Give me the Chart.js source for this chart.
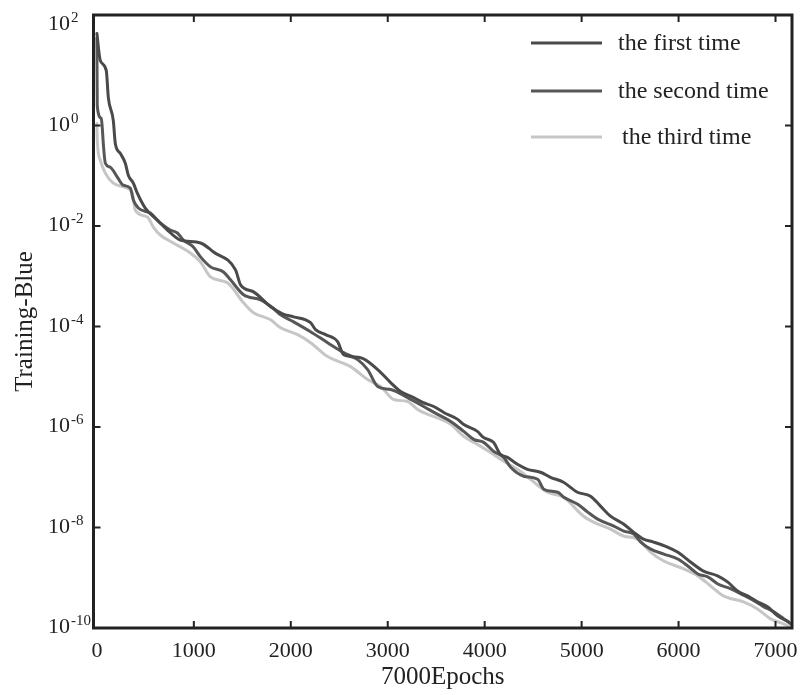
<!DOCTYPE html>
<html>
<head>
<meta charset="utf-8">
<script src="https://cdn.jsdelivr.net/npm/chart.js@4.4.1/dist/chart.umd.min.js"></script>
<style>
html,body{margin:0;padding:0;background:#ffffff;}
canvas{display:block;}
</style>
</head>
<body>
<canvas id="c" width="807" height="695"></canvas>
<script>
// ---------------- data ----------------
const seriesNames = ['the first time', 'the second time', 'the third time'];

const xTickValues = [0, 1000, 2000, 3000, 4000, 5000, 6000, 7000];
const yTickPowers = [2, 0, -2, -4, -6, -8, -10];

const firstEpochs = [0,35,97,118,169,190,241,293,324,376,417,499,623,727,861,1069,1203,1430,1482,1616,1792,1915,2029,2204,2256,2359,2483,2545,2720,2896,3030,3133,3268,3361,3474,3578,3722,3781,3925,3987,4090,4163,4235,4338,4441,4576,4679,4813,4957,5092,5195,5298,5432,5535,5638,5742,5886,5989,6123,6257,6402,6505,6608,6711,6814,6918,7021,7134];
const firstLoss = [68,19.7,12.4,3.6,1.27,0.44,0.28,0.178,0.103,0.0713,0.0452,0.0228,0.0131,0.00833,0.00527,0.0046,0.00305,0.00134,6.75e-4,4.9e-4,2.47e-4,1.79e-4,1.56e-4,1.19e-4,8.64e-5,6.88e-5,4.99e-5,2.75e-5,2.4e-5,1.39e-5,7.67e-6,5.08e-6,3.86e-6,3.08e-6,2.56e-6,1.95e-6,1.42e-6,1.13e-6,8.18e-7,6.22e-7,4.95e-7,2.86e-7,2.49e-7,1.81e-7,1.44e-7,1.26e-7,1.0e-7,7.96e-8,5.04e-8,4.2e-8,2.66e-8,1.68e-8,1.17e-8,8.1e-9,5.89e-9,5.13e-9,4.08e-9,3.25e-9,2.06e-9,1.36e-9,1.09e-9,8.26e-10,5.47e-10,4.35e-10,3.31e-10,2.64e-10,1.75e-10,1.33e-10];

const secondEpochs = [0,4,45,56,66,87,138,211,272,345,376,427,551,654,757,830,892,995,1069,1172,1306,1378,1513,1689,1813,1895,2029,2204,2380,2545,2690,2793,2896,3030,3205,3371,3515,3650,3784,3887,3990,4093,4196,4268,4403,4547,4609,4754,4816,4960,5063,5166,5332,5435,5538,5610,5713,5848,5992,6095,6199,6302,6405,6539,6642,6745,6880,6983,7086,7158];
const secondLoss = [55,2.4,1.39,0.88,0.44,0.178,0.148,0.0938,0.065,0.0567,0.0328,0.0228,0.0181,0.0115,0.00833,0.00726,0.00527,0.00383,0.00243,0.00154,0.00122,8.49e-4,4.28e-4,3.4e-4,2.36e-4,1.71e-4,1.24e-4,7.89e-5,4.77e-5,3.02e-5,2.19e-5,1.39e-5,6.4e-6,5.57e-6,3.86e-6,2.56e-6,1.78e-6,1.29e-6,8.18e-7,5.68e-7,4.95e-7,3.28e-7,2.49e-7,1.58e-7,1.05e-7,9.12e-8,5.78e-8,5.04e-8,4.01e-8,2.91e-8,2.02e-8,1.47e-8,1.07e-8,8.49e-9,7.4e-9,5.13e-9,3.72e-9,2.96e-9,2.36e-9,1.71e-9,1.19e-9,1.04e-9,7.53e-10,6.0e-10,4.78e-10,3.8e-10,2.64e-10,2.1e-10,1.52e-10,1.21e-10];

const thirdEpochs = [0,4,35,87,169,313,365,396,520,582,654,788,964,1069,1172,1347,1513,1616,1792,1895,2070,2204,2380,2617,2793,2927,3061,3205,3309,3650,3784,3925,4059,4196,4338,4472,4648,4813,5020,5123,5298,5432,5577,5711,5848,6054,6199,6330,6464,6670,6814,6949,7083,7150];
const thirdLoss = [1.1,0.51,0.204,0.113,0.0713,0.0567,0.0452,0.0207,0.0151,0.00955,0.00663,0.0046,0.00291,0.00193,9.73e-4,7.4e-4,2.96e-4,1.88e-4,1.36e-4,9.46e-5,6.88e-5,4.77e-5,2.52e-5,1.59e-5,8.79e-6,6.4e-6,3.53e-6,3.22e-6,2.23e-6,1.13e-6,6.5e-7,4.52e-7,3.13e-7,2.08e-7,1.44e-7,9.12e-8,5.04e-8,4.01e-8,1.68e-8,1.28e-8,9.29e-9,6.75e-9,5.89e-9,3.25e-9,2.15e-9,1.5e-9,1.09e-9,6.87e-10,4.35e-10,3.31e-10,2.4e-10,1.52e-10,1.21e-10,1.05e-10];

// ---------------- styling ----------------
const FONT = "'Liberation Serif', 'Times New Roman', 'DejaVu Serif', serif";
const INK = '#222222';
const seriesColors = ['#4a4a4a', '#575757', '#c6c6c6'];

function toPoints(xs, ys) {
  const n = Math.min(xs.length, ys.length);
  const out = [];
  for (let i = 0; i < n; i++) out.push({ x: xs[i], y: ys[i] });
  return out;
}

const lineStyle = {
  borderWidth: 3,
  pointRadius: 0,
  pointHoverRadius: 0,
  fill: false,
  cubicInterpolationMode: 'monotone',
  borderJoinStyle: 'round',
  borderCapStyle: 'round'
};

const framePlugin = {
  id: 'framePlugin',
  afterDatasetsDraw(chart) {
    const { ctx, chartArea: a, scales } = chart;
    const xs = scales.x, ys = scales.y;
    ctx.save();
    ctx.strokeStyle = INK;
    ctx.fillStyle = INK;

    // inward tick marks on all four sides
    const tl = 7;
    ctx.lineWidth = 2;
    ctx.beginPath();
    xs.ticks.forEach(t => {
      const px = xs.getPixelForValue(t.value);
      if (px - a.left < 10 || a.right - px < 10) return;
      ctx.moveTo(px, a.bottom); ctx.lineTo(px, a.bottom - tl);
      ctx.moveTo(px, a.top); ctx.lineTo(px, a.top + tl);
    });
    ys.ticks.forEach(t => {
      const py = ys.getPixelForValue(t.value);
      if (py - a.top < 12 || a.bottom - py < 12) return;
      ctx.moveTo(a.left, py); ctx.lineTo(a.left + tl, py);
      ctx.moveTo(a.right, py); ctx.lineTo(a.right - tl, py);
    });
    ctx.stroke();

    // frame
    ctx.lineWidth = 3;
    ctx.strokeRect(a.left, a.top, a.right - a.left, a.bottom - a.top);

    // y tick labels as 10 with superscript exponent
    ctx.textAlign = 'left';
    ctx.textBaseline = 'alphabetic';
    yTickPowers.forEach(p => {
      const py = ys.getPixelForValue(Math.pow(10, p));
      ctx.font = `22px ${FONT}`;
      const base = '10';
      const bx = 48;
      ctx.fillText(base, bx, py + 5);
      const w = ctx.measureText(base).width;
      ctx.font = `15px ${FONT}`;
      ctx.fillText(String(p), bx + w + 1, py - 3);
    });

    // legend
    const legendY = [43, 91, 137];
    const textX = [618, 618, 622];
    ctx.textBaseline = 'middle';
    seriesNames.forEach((name, i) => {
      ctx.strokeStyle = seriesColors[i];
      ctx.lineWidth = 3;
      ctx.beginPath();
      ctx.moveTo(531, legendY[i]);
      ctx.lineTo(602, legendY[i]);
      ctx.stroke();
      ctx.fillStyle = INK;
      ctx.font = `24px ${FONT}`;
      ctx.fillText(name, textX[i], legendY[i] + 1);
    });
    ctx.restore();
  }
};

new Chart(document.getElementById('c'), {
  type: 'line',
  data: {
    datasets: [
      Object.assign({ label: seriesNames[0], data: toPoints(firstEpochs, firstLoss), borderColor: seriesColors[0] }, lineStyle),
      Object.assign({ label: seriesNames[1], data: toPoints(secondEpochs, secondLoss), borderColor: seriesColors[1] }, lineStyle),
      Object.assign({ label: seriesNames[2], data: toPoints(thirdEpochs, thirdLoss), borderColor: seriesColors[2] }, lineStyle)
    ]
  },
  options: {
    responsive: false,
    animation: false,
    devicePixelRatio: 1,
    events: [],
    layout: { padding: { left: 0, top: 15, right: 15, bottom: 0 } },
    plugins: {
      legend: { display: false },
      tooltip: { enabled: false }
    },
    scales: {
      x: {
        type: 'linear',
        min: -35,
        max: 7170,
        grid: { display: false, drawTicks: false },
        border: { display: false },
        afterBuildTicks: s => { s.ticks = xTickValues.map(v => ({ value: v })); },
        afterFit: s => { s.height = 67; s.paddingLeft = 0; s.paddingRight = 0; },
        ticks: {
          autoSkip: false,
          maxRotation: 0,
          padding: 10,
          color: INK,
          font: { family: FONT, size: 22 },
          callback: v => String(v)
        },
        title: {
          display: true,
          text: '7000Epochs',
          color: INK,
          font: { family: FONT, size: 25 },
          padding: { top: 0, bottom: 3 }
        }
      },
      y: {
        type: 'logarithmic',
        min: 1e-10,
        max: 158.5,
        grid: { display: false, drawTicks: false },
        border: { display: false },
        afterBuildTicks: s => { s.ticks = yTickPowers.map(p => ({ value: Math.pow(10, p) })); },
        afterFit: s => { s.width = 93.5; s.paddingTop = 0; s.paddingBottom = 0; },
        ticks: { display: false },
        title: {
          display: true,
          text: 'Training-Blue',
          color: INK,
          font: { family: FONT, size: 25 },
          padding: { top: 10, bottom: 0 }
        }
      }
    }
  },
  plugins: [framePlugin]
});
</script>
</body>
</html>
